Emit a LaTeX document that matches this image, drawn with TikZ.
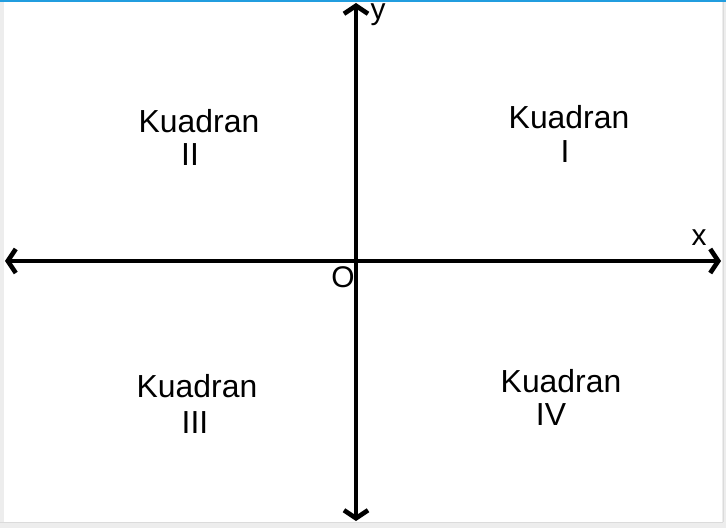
\documentclass[tikz,border=0pt]{standalone}
\usepackage{fontspec}
\setmainfont{Liberation Sans}
\usetikzlibrary{arrows.meta}
\begin{document}
\begin{tikzpicture}[x=1bp,y=-1bp,
  axis/.style={line width=4.6bp,{Straight Barb[length=8bp,width=24bp]}-{Straight Barb[length=8bp,width=24bp]}},
  lbl/.style={anchor=base,inner sep=0pt,font=\fontsize{32}{38}\selectfont},
  axlbl/.style={anchor=base,inner sep=0pt,font=\fontsize{30}{35}\selectfont}]
\useasboundingbox (0,0) rectangle (726,528);
\fill[white] (0,0) rectangle (726,528);
\fill[black!7] (0,0) rectangle (4,528);
\fill[black!7] (722,0) rectangle (726,528);
\fill[black!7] (0,522) rectangle (726,528);
\draw[black!14,line width=0.8bp] (723.5,0) -- (723.5,522);
\draw[black!14,line width=0.8bp] (0,522.5) -- (723,522.5);
\fill[cyan!80!blue!90] (0,0) rectangle (726,1.6);
\coordinate (L) at (5,261);
\coordinate (R) at (721,261);
\coordinate (T) at (356,3);
\coordinate (B) at (356,521);
\draw[axis] (L) -- (R);
\draw[axis] (B) -- (T);
\node[axlbl] (ylab) at (378,20) {y};
\node[axlbl] (xlab) at (699,246) {x};
\node[axlbl] (olab) at (343,288) {O};
\node[lbl] (q2a) at (199,133) {Kuadran};
\node[lbl] (q2b) at (190,166) {II};
\node[lbl] (q1a) at (569,129) {Kuadran};
\node[lbl] (q1b) at (565,163) {I};
\node[lbl] (q3a) at (197,397) {Kuadran};
\node[lbl] (q3b) at (195,433) {III};
\node[lbl] (q4a) at (561,392) {Kuadran};
\node[lbl] (q4b) at (551,425) {IV};
\end{tikzpicture}
\end{document}
